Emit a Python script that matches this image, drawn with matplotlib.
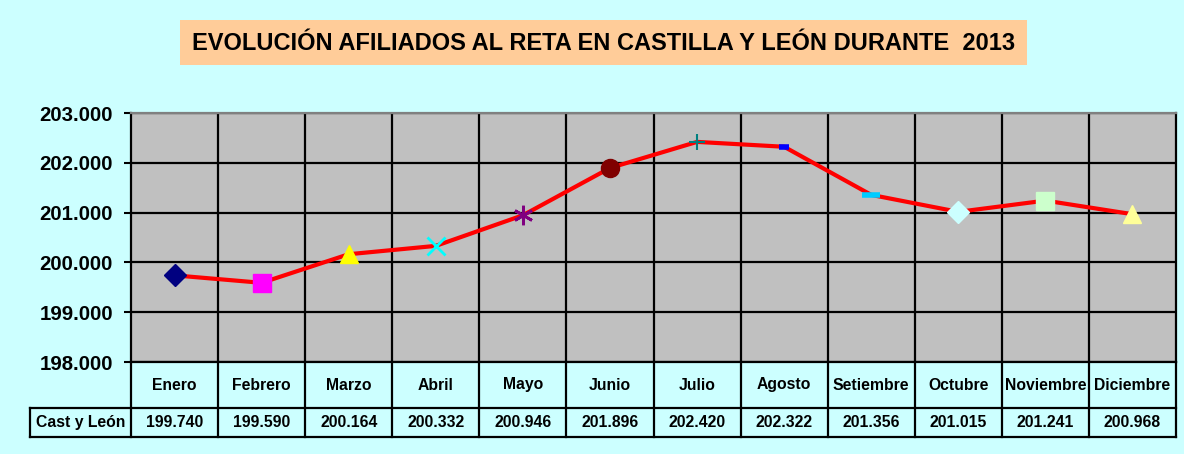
import matplotlib.pyplot as plt
from matplotlib.patches import Rectangle
from matplotlib.ticker import FuncFormatter, MultipleLocator

plt.rcParams['font.family'] = ['Liberation Sans', 'DejaVu Sans']

# datos
meses = ["Enero", "Febrero", "Marzo", "Abril", "Mayo", "Junio", "Julio",
         "Agosto", "Setiembre", "Octubre", "Noviembre", "Diciembre"]
afiliados = [199740, 199590, 200164, 200332, 200946, 201896, 202420,
             202322, 201356, 201015, 201241, 200968]
etiqueta_fila = "Cast y León"
titulo = "EVOLUCIÓN AFILIADOS AL RETA EN CASTILLA Y LEÓN DURANTE  2013"

# estilo de cada marcador (como en Excel)
marcadores = [
    dict(marker="D", color="#000080", ms=11),
    dict(marker="s", color="#FF00FF", ms=13),
    dict(marker="^", color="#FFFF00", ms=13),
    dict(marker="x", color="#00FFFF", ms=13, mew=2),
    dict(marker=(6, 2, 0), color="#800080", ms=14, mew=2),
    dict(marker="o", color="#800000", ms=13),
    dict(marker="+", color="#008080", ms=12, mew=1.5),
    dict(marker="_", color="#0000FF", ms=7, mew=4),
    dict(marker="_", color="#00CCFF", ms=13, mew=4),
    dict(marker="D", color="#CCFFFF", ms=11),
    dict(marker="s", color="#CCFFCC", ms=13),
    dict(marker="^", color="#FFFF99", ms=13),
]

W, H = 1184, 454
fig = plt.figure(figsize=(W / 100, H / 100), dpi=100, facecolor="#CCFFFF")

# caja del titulo
fig.patches.append(Rectangle((180 / W, 1 - 65 / H), 847 / W, 45 / H,
                             transform=fig.transFigure, facecolor="#FFCC99",
                             edgecolor="none", zorder=0))
fig.text(604 / W, 1 - 43 / H, titulo, ha="center", va="center",
         fontsize=17, fontweight="bold")

x0, x1, y0, y1 = 131, 1176, 113, 362
ax = fig.add_axes([x0 / W, 1 - y1 / H, (x1 - x0) / W, (y1 - y0) / H])
ax.set_facecolor("#C0C0C0")

x = list(range(len(meses)))
ax.plot(x, afiliados, color="red", lw=3, zorder=3)
for i, estilo in enumerate(marcadores):
    e = dict(estilo)
    c = e.pop("color")
    ax.plot(x[i], afiliados[i], linestyle="none", color=c, mfc=c, mec=c,
            zorder=4, **e)

ax.set_xlim(-0.5, len(meses) - 0.5)
ax.set_ylim(198000, 203000)
ax.yaxis.set_major_locator(MultipleLocator(1000))
ax.yaxis.set_major_formatter(FuncFormatter(lambda v, p: f"{v:,.0f}".replace(",", ".")))
ax.set_xticks([])
ax.set_xticks([i + 0.5 for i in range(len(meses) - 1)], minor=True)
ax.tick_params(axis="x", which="minor", length=0)
ax.grid(True, which="major", axis="y", color="black", lw=1.6)
ax.grid(True, which="minor", axis="x", color="black", lw=1.6)
ax.tick_params(axis="y", direction="out", length=5, width=1.5,
               labelsize=14.7, pad=8)
for lab in ax.get_yticklabels():
    lab.set_fontweight("bold")
for s in ["left", "right", "bottom"]:
    ax.spines[s].set_color("black")
    ax.spines[s].set_linewidth(1.6)
ax.spines["top"].set_color("#808080")
ax.spines["top"].set_linewidth(1.6)

# tabla de datos bajo el grafico
tr = ax.get_xaxis_transform()
alto = y1 - y0
r1 = -(408 - y1) / alto
r2 = -(437 - y1) / alto
izq = -0.5 - (x0 - 30) / ((x1 - x0) / len(meses))
kw = dict(transform=tr, clip_on=False, color="black", lw=1.6)
for i in range(len(meses) + 1):
    ax.plot([i - 0.5, i - 0.5], [0, r2], **kw)
ax.plot([izq, len(meses) - 0.5], [r1, r1], **kw)
ax.plot([izq, len(meses) - 0.5], [r2, r2], **kw)
ax.plot([izq, izq], [r1, r2], **kw)
for i, m in enumerate(meses):
    ax.text(i, r1 / 2, m, transform=tr, ha="center", va="center",
            fontsize=11.3, fontweight="bold")
    ax.text(i, (r1 + r2) / 2, f"{afiliados[i]:,}".replace(",", "."),
            transform=tr, ha="center", va="center", fontsize=11.3,
            fontweight="bold")
ax.text((izq - 0.5) / 2, (r1 + r2) / 2, etiqueta_fila, transform=tr,
        ha="center", va="center", fontsize=11.3, fontweight="bold")

fig.savefig("out.png", dpi=100, facecolor=fig.get_facecolor())
